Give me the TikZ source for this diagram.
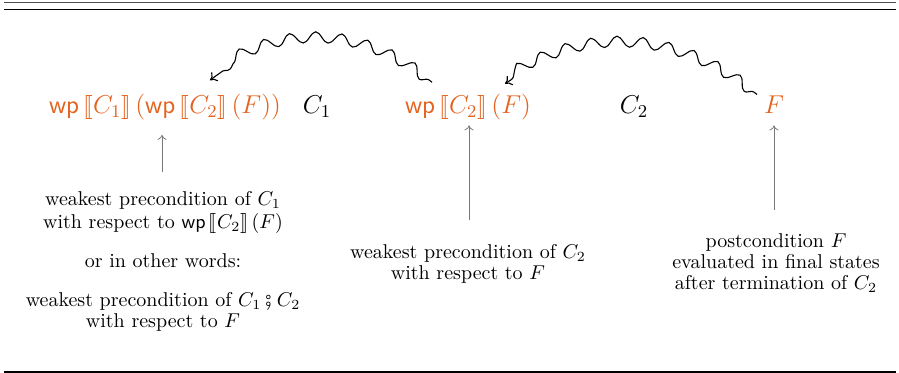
\RequirePackage{fix-cm}
\documentclass[tikz,border=0pt]{standalone}
\usepackage{stmaryrd}
\usetikzlibrary{decorations.pathmorphing,arrows.meta}
\definecolor{wporange}{RGB}{228,98,30}
\definecolor{arrgray}{RGB}{120,120,120}
\newcommand{\wpx}{\mathsf{wp}}
\begin{document}
\begin{tikzpicture}[x=0.5pt,y=-0.5pt,
  formula/.style={anchor=base, inner sep=0pt, text=wporange, font=\fontsize{12.9}{15}\selectfont},
  prog/.style={anchor=base, inner sep=0pt, font=\fontsize{12.9}{15}\selectfont},
  expl/.style={anchor=north, inner sep=0pt, align=center, font=\fontsize{10}{10.5}\selectfont},
  squig/.style={-{To[length=3.2pt,width=5.5pt]}, decorate,
    decoration={snake, amplitude=2.7pt, segment length=12.8pt, pre length=2pt, post length=3pt},
    line width=0.55pt},
  garrow/.style={-{To[length=2.5pt,width=4.5pt]}, draw=arrgray, line width=0.4pt},
  rule/.style={line width=#1}]
\useasboundingbox (0,0) rectangle (899,373);
% rules
\draw[rule=0.5pt, black!70] (4,3) -- (896,3);
\draw[rule=0.9pt] (4,9.5) -- (896,9.5);
\draw[rule=0.8pt] (4,372) -- (896,372);
% formulas
\node[formula] (f1) at (165,114) {$\wpx\,\llbracket C_1\rrbracket\,\bigl(\wpx\,\llbracket C_2\rrbracket\,(F)\bigr)$};
\node[prog] (c1) at (317,114) {$C_1$};
\node[formula] (f2) at (468,114) {$\wpx\,\llbracket C_2\rrbracket\,(F)$};
\node[prog] (c2) at (634,114) {$C_2$};
\node[formula] (f3) at (774,114) {$F$};
% explanations
\node[expl] (l1) at (163,191) {weakest precondition of $C_1$\\[1pt]
  with respect to $\wpx\,\llbracket C_2\rrbracket\,(F)$\\[9pt]
  or in other words:\\[9pt]
  weakest precondition of $C_1\fatsemi C_2$\\
  with respect to $F$};
\node[expl] (l2) at (468,244) {weakest precondition of $C_2$\\ with respect to $F$};
\node[expl] (l3) at (776,233) {postcondition $F$\\ evaluated in final states\\ after termination of $C_2$};
% gray arrows
\draw[garrow, shorten <=9.5pt] (l1.north -| 162,0) -- ([yshift=-7pt]f1.south -| 162,0);
\draw[garrow, shorten <=12pt] (l2.north -| 469,0) -- ([yshift=-2.25pt]f2.south -| 469,0);
\draw[garrow, shorten <=11.5pt] (l3.north -| 774,0) -- ([yshift=-5.5pt]f3.south -| 774,0);
% squiggly arrows
\draw[squig] ([xshift=-18pt,yshift=6pt]f2.north) to[bend right=38] ([xshift=22.5pt,yshift=7pt]f1.north);
\draw[squig] ([xshift=-8.5pt,yshift=0.75pt]f3.north) to[bend right=36] ([xshift=18.5pt,yshift=5.25pt]f2.north);
\end{tikzpicture}
\end{document}
